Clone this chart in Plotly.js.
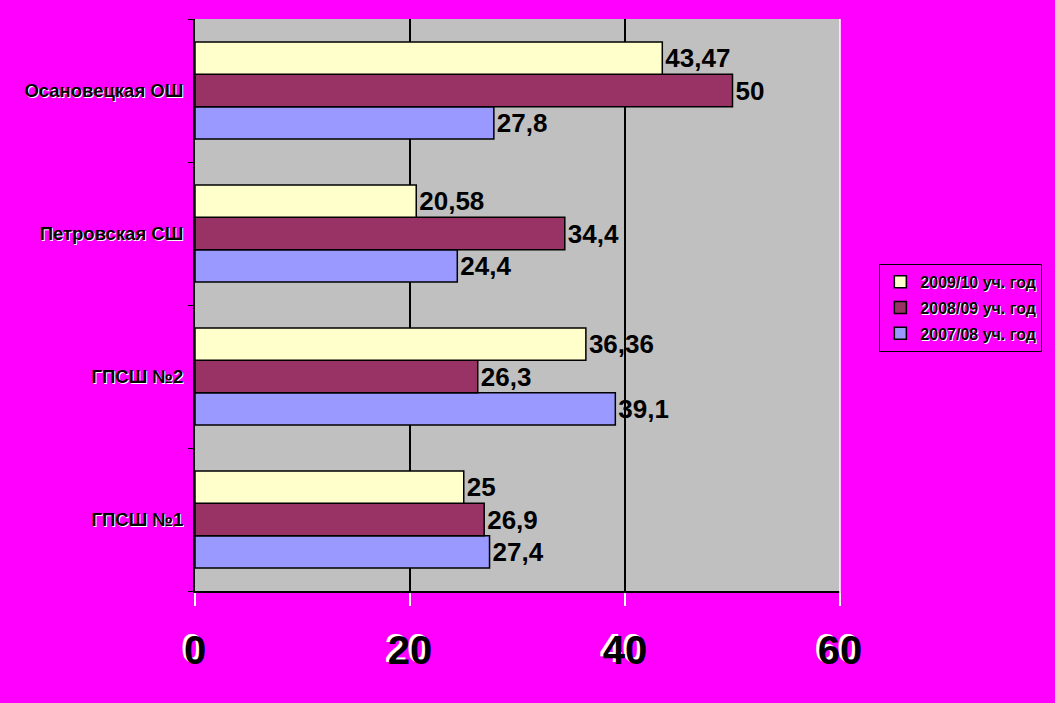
<!DOCTYPE html>
<html><head><meta charset="utf-8">
<script src="https://cdn.plot.ly/plotly-3.0.1.min.js"></script>
<style>body{margin:0;background:#FF00FF}</style>
</head><body>
<div id="chart" style="width:1055px;height:703px"></div>
<script>
const categories = ["ГПСШ №1", "ГПСШ №2", "Петровская СШ", "Осановецкая ОШ"];
const seriesNames = ["2007/08 уч. год", "2008/09 уч. год", "2009/10 уч. год"];
const values0708 = [27.4, 39.1, 24.4, 27.8];
const values0809 = [26.9, 26.3, 34.4, 50];
const values0910 = [25, 36.36, 20.58, 43.47];
const xTicks = [0, 20, 40, 60];
const colors = ["#9999FF", "#993366", "#FFFFCC"];

const fmt = v => String(v).replace('.', ',');
const allVals = [values0708, values0809, values0910];
const traces = allVals.map((vals, i) => ({
  type: 'bar', orientation: 'h',
  y: categories, x: vals, name: seriesNames[i], legendgroup: 'g' + i,
  legendrank: 3 - i,
  marker: {color: colors[i], line: {color: '#000', width: 1.5}},
  text: vals.map(fmt), textposition: 'outside', cliponaxis: false,
  textfont: {family: 'Arial, Liberation Sans', size: 26, color: '#000', weight: 'bold'},
  hoverinfo: 'none'
}));

const layout = {
  width: 1055, height: 703,
  paper_bgcolor: '#FF00FF', plot_bgcolor: '#C0C0C0',
  margin: {l: 195, r: 215, t: 19, b: 112},
  barmode: 'group', bargap: 0.32, bargroupgap: 0,
  showlegend: true,
  legend: {
    x: 1.061, y: 0.572, xanchor: 'left', yanchor: 'top',
    bgcolor: '#FF00FF', bordercolor: '#000', borderwidth: 1,
    traceorder: 'grouped', tracegroupgap: 2,
    font: {family: 'Arial, Liberation Sans', size: 16, color: '#000', weight: 'bold', shadow: '1px 1px 0px white'}
  },
  xaxis: {
    range: [0, 60], tickvals: xTicks, ticktext: xTicks.map(String),
    showgrid: true, gridcolor: '#000', gridwidth: 1.5,
    showline: true, linecolor: '#000', linewidth: 2,
    ticks: 'outside', ticklen: 13, tickcolor: '#fff', tickwidth: 2,
    ticklabelstandoff: 10,
    zeroline: false,
    tickfont: {family: 'Arial, Liberation Sans', size: 40, color: '#000', weight: 'bold', shadow: '-3px -2px 0px white'}
  },
  yaxis: {
    type: 'category', categoryarray: categories,
    showline: true, linecolor: '#000', linewidth: 2,
    ticks: 'outside', tickson: 'boundaries', ticklen: 5, tickcolor: '#000',
    ticklabelstandoff: 6,
    showgrid: false,
    tickfont: {family: 'Arial, Liberation Sans', size: 18.5, color: '#000', weight: 'bold', shadow: '1px 1px 0px white'}
  },
  shapes: [{type: 'line', xref: 'paper', yref: 'paper', x0: 1, x1: 1, y0: -0.023, y1: 1,
            line: {color: '#fff', width: 1.5}}]
};
Plotly.newPlot('chart', traces, layout, {displayModeBar: false, staticPlot: true});
</script>
</body></html>
